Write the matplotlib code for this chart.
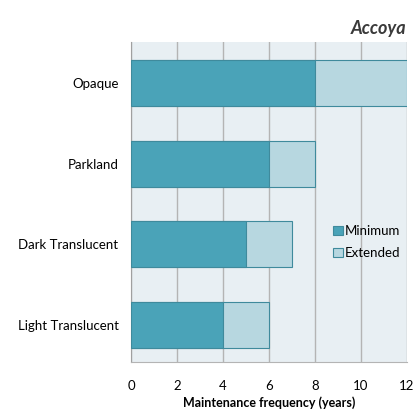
import matplotlib
matplotlib.use("Agg")
import matplotlib.pyplot as plt

categories = ["Light Translucent", "Dark Translucent", "Parkland", "Opaque"]
minimum = [4, 5, 6, 8]
extended = [6, 7, 8, 12]

plt.rcParams['font.family'] = ['Lato', 'DejaVu Sans']

fig = plt.figure(figsize=(4.2, 4.12), dpi=100)
ax = fig.add_axes([0.312, 0.121, 0.657, 0.777])
ax.set_facecolor("#e8eff3")

pos = range(len(categories))
ax.barh(pos, extended, height=0.57, color="#b7d7e0", edgecolor="#3f8a9c",
        linewidth=0.8, label="Extended", zorder=2)
ax.barh(pos, minimum, height=0.57, color="#4aa3b8", edgecolor="#3f8a9c",
        linewidth=0.8, label="Minimum", zorder=3)

ax.set_xlim(0, 12)
ax.set_ylim(-0.46, 3.51)
ax.set_xticks(range(0, 13, 2))
ax.set_yticks(list(pos))
ax.set_yticklabels(categories, fontsize=9.5)
ax.tick_params(axis='x', labelsize=9.5, length=0, pad=13)
ax.tick_params(axis='y', length=0, pad=9)
ax.xaxis.grid(True, color="#b4b4b4", linewidth=1, zorder=1)
ax.set_axisbelow(True)
for s in ["top", "right"]:
    ax.spines[s].set_visible(False)
ax.spines["left"].set_color("#a0a0a0")
ax.spines["bottom"].set_color("#b4b4b4")

ax.set_xlabel("Maintenance frequency (years)", fontsize=9, fontweight="bold", labelpad=3)

h, l = ax.get_legend_handles_labels()
ax.legend(h[::-1], l[::-1], loc="center left", bbox_to_anchor=(0.69, 0.375),
          frameon=False, fontsize=9.5, handlelength=0.7, handleheight=0.7,
          handletextpad=0.2, labelspacing=0.75)

fig.text(0.967, 0.93, "Accoya", ha="right", va="center", fontsize=13,
         fontweight="bold", fontstyle="italic", color="#3a3a3a")

fig.savefig("out.png", dpi=100)
